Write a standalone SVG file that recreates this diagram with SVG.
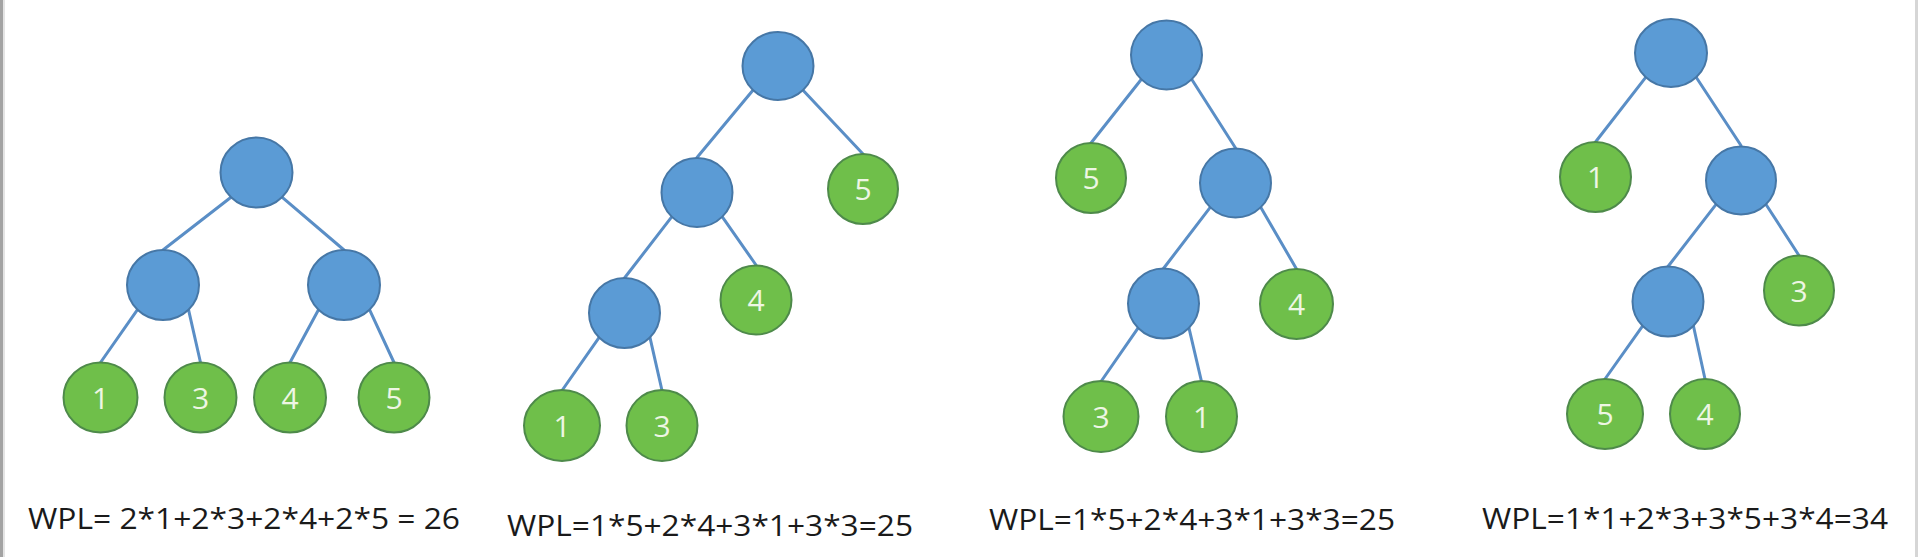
<svg xmlns="http://www.w3.org/2000/svg" width="1918" height="557" viewBox="0 0 1918 557">
<style>
.in{fill:#5b9bd5;stroke:#4677a6;stroke-width:2}
.lf{fill:#6fbf4a;stroke:#4e8a4a;stroke-width:2}
.d{font-family:"Open Sans","Liberation Sans",sans-serif;font-size:30px;fill:#eef6e4;text-anchor:middle}
.w{font-family:"Open Sans","Liberation Sans",sans-serif;font-size:30px;fill:#1a1a1a}
#edges line{stroke:#5a8ec6;stroke-width:3;stroke-linecap:round}
</style>
<rect width="1918" height="557" fill="#ffffff"/>
<rect x="0" y="0" width="3" height="557" fill="#a3a3a3"/>
<rect x="3" y="0" width="2" height="557" fill="#e4e4e4"/>
<rect x="1915" y="0" width="3" height="557" fill="#d6d6d6"/>
<g id="edges">
<line x1="231" y1="197.2" x2="163" y2="250"/>
<line x1="282" y1="197.2" x2="344" y2="250"/>
<line x1="137.5" y1="309.7" x2="100.5" y2="362.5"/>
<line x1="188.5" y1="309.7" x2="200.5" y2="362.5"/>
<line x1="318.5" y1="309.7" x2="290" y2="362.5"/>
<line x1="369.5" y1="309.7" x2="394" y2="362.5"/>
<line x1="752.5" y1="90.7" x2="697" y2="157.5"/>
<line x1="803.5" y1="90.7" x2="863" y2="154"/>
<line x1="671.5" y1="217.2" x2="624.5" y2="278"/>
<line x1="722.5" y1="217.2" x2="756" y2="265"/>
<line x1="599" y1="337.7" x2="562" y2="390.5"/>
<line x1="650" y1="337.7" x2="662" y2="390.5"/>
<line x1="1141" y1="79.7" x2="1091" y2="143"/>
<line x1="1192" y1="79.7" x2="1235.5" y2="148"/>
<line x1="1210" y1="207.7" x2="1163.5" y2="268.5"/>
<line x1="1261" y1="207.7" x2="1296.5" y2="269"/>
<line x1="1138" y1="328.2" x2="1101" y2="381.5"/>
<line x1="1189" y1="328.2" x2="1201.5" y2="381.5"/>
<line x1="1645.5" y1="77.7" x2="1595.5" y2="142"/>
<line x1="1696.5" y1="77.7" x2="1741" y2="145.5"/>
<line x1="1715.5" y1="205.2" x2="1668" y2="266.5"/>
<line x1="1766.5" y1="205.2" x2="1799" y2="255.5"/>
<line x1="1642.5" y1="326.2" x2="1605" y2="379"/>
<line x1="1693.5" y1="326.2" x2="1705" y2="379"/>
</g>
<g id="t1-root"><ellipse class="in" cx="256.5" cy="172.5" rx="36" ry="35"/></g>
<g id="t1-a"><ellipse class="in" cx="163" cy="285" rx="36" ry="35"/></g>
<g id="t1-b"><ellipse class="in" cx="344" cy="285" rx="36" ry="35"/></g>
<g id="t1-1"><ellipse class="lf" cx="100.5" cy="397.5" rx="37" ry="35"/><text class="d" x="100.5" y="408.5">1</text></g>
<g id="t1-3"><ellipse class="lf" cx="200.5" cy="397.5" rx="36" ry="35"/><text class="d" x="200.5" y="408.5">3</text></g>
<g id="t1-4"><ellipse class="lf" cx="290" cy="397.5" rx="36" ry="35"/><text class="d" x="290" y="408.5">4</text></g>
<g id="t1-5"><ellipse class="lf" cx="394" cy="397.5" rx="35.5" ry="35"/><text class="d" x="394" y="408.5">5</text></g>
<g id="t2-root"><ellipse class="in" cx="778" cy="66" rx="35.5" ry="34"/></g>
<g id="t2-a"><ellipse class="in" cx="697" cy="192.5" rx="35.5" ry="34.5"/></g>
<g id="t2-5"><ellipse class="lf" cx="863" cy="189" rx="35" ry="35"/><text class="d" x="863" y="200">5</text></g>
<g id="t2-b"><ellipse class="in" cx="624.5" cy="313" rx="35.5" ry="35"/></g>
<g id="t2-4"><ellipse class="lf" cx="756" cy="300" rx="35.5" ry="34.5"/><text class="d" x="756" y="311">4</text></g>
<g id="t2-1"><ellipse class="lf" cx="562" cy="425.5" rx="38" ry="35.5"/><text class="d" x="562" y="436.5">1</text></g>
<g id="t2-3"><ellipse class="lf" cx="662" cy="425.5" rx="35.5" ry="35.5"/><text class="d" x="662" y="436.5">3</text></g>
<g id="t3-root"><ellipse class="in" cx="1166.5" cy="55" rx="35.5" ry="34.5"/></g>
<g id="t3-5"><ellipse class="lf" cx="1091" cy="178" rx="35" ry="35"/><text class="d" x="1091" y="189">5</text></g>
<g id="t3-a"><ellipse class="in" cx="1235.5" cy="183" rx="35.5" ry="34.5"/></g>
<g id="t3-b"><ellipse class="in" cx="1163.5" cy="303.5" rx="35.5" ry="35"/></g>
<g id="t3-4"><ellipse class="lf" cx="1296.5" cy="304" rx="36.5" ry="35"/><text class="d" x="1296.5" y="315">4</text></g>
<g id="t3-3"><ellipse class="lf" cx="1101" cy="416.5" rx="37.5" ry="35.5"/><text class="d" x="1101" y="427.5">3</text></g>
<g id="t3-1"><ellipse class="lf" cx="1201.5" cy="416.5" rx="35.5" ry="35.5"/><text class="d" x="1201.5" y="427.5">1</text></g>
<g id="t4-root"><ellipse class="in" cx="1671" cy="53" rx="36" ry="34"/></g>
<g id="t4-1"><ellipse class="lf" cx="1595.5" cy="177" rx="35.5" ry="35"/><text class="d" x="1595.5" y="188">1</text></g>
<g id="t4-a"><ellipse class="in" cx="1741" cy="180.5" rx="35" ry="34"/></g>
<g id="t4-b"><ellipse class="in" cx="1668" cy="301.5" rx="35.5" ry="35"/></g>
<g id="t4-3"><ellipse class="lf" cx="1799" cy="290.5" rx="35" ry="35"/><text class="d" x="1799" y="301.5">3</text></g>
<g id="t4-5"><ellipse class="lf" cx="1605" cy="414" rx="38" ry="35"/><text class="d" x="1605" y="425">5</text></g>
<g id="t4-4"><ellipse class="lf" cx="1705" cy="414" rx="35" ry="35"/><text class="d" x="1705" y="425">4</text></g>
<g id="labels">
<text class="w" x="28" y="529" textLength="432" lengthAdjust="spacingAndGlyphs">WPL= 2*1+2*3+2*4+2*5 = 26</text>
<text class="w" x="507" y="536" textLength="406" lengthAdjust="spacingAndGlyphs">WPL=1*5+2*4+3*1+3*3=25</text>
<text class="w" x="989" y="530" textLength="406" lengthAdjust="spacingAndGlyphs">WPL=1*5+2*4+3*1+3*3=25</text>
<text class="w" x="1482" y="529" textLength="406" lengthAdjust="spacingAndGlyphs">WPL=1*1+2*3+3*5+3*4=34</text>
</g>
</svg>
